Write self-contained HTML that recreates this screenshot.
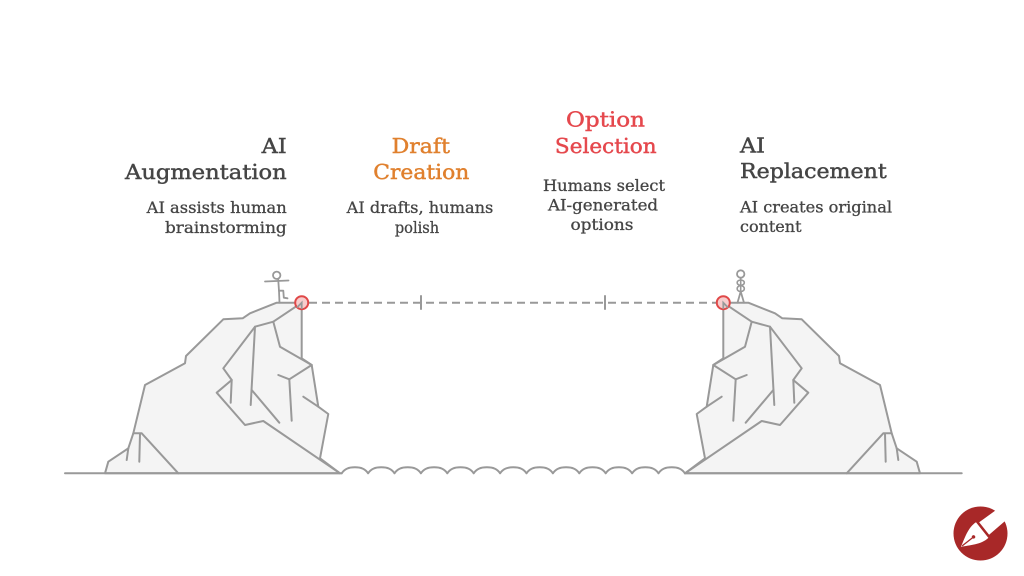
<!DOCTYPE html>
<html><head><meta charset="utf-8"><style>
html,body{margin:0;padding:0;background:#fff;}
svg{display:block;}
text{font-family:"DejaVu Serif","Liberation Serif",serif;}
.t{font-size:20.5px;stroke-width:0.45;}
.d{font-size:16px;stroke-width:0.3;}
</style></head><body>
<svg width="1024" height="576" viewBox="0 0 1024 576" xmlns="http://www.w3.org/2000/svg">
<rect width="1024" height="576" fill="#fff"/>
<defs>
<g id="cliff">
<path d="M105,473.3 L108.3,461.7 L128.3,448.3 L133.3,433.3 L145,385 L185,363.3 L186,356 L223.3,319.3 L242.7,318.3 L250,313.3 L276.7,302.7 L301.7,302.7 L301.7,358.3 L311.7,365 L318.3,406.7 L328.3,414 L320,458.3 L340,473.3 Z" fill="#f4f4f4" stroke="#999" stroke-width="2" stroke-linejoin="round"/>
<g fill="none" stroke="#999" stroke-width="2" stroke-linejoin="round" stroke-linecap="round">
<path d="M301.7,302.7 L273.3,321.7 L255,326.7 L223.3,368.3 L231.7,380 L216.7,392.7 L245,425 L263.3,421 L340,473.3"/>
<path d="M273.3,321.7 L280,346.7 L311.7,365"/>
<path d="M255,326.7 L250.7,405"/>
<path d="M251.7,390 L279.3,422.7"/>
<path d="M231.7,380 L230.7,402.7"/>
<path d="M278.3,375 L289.3,379.3 L311.7,365"/>
<path d="M289.3,379.3 L291.7,420.7"/>
<path d="M303.3,396.7 L318.3,406.7"/>
<path d="M133.3,433.3 L141.7,433.3 L178.3,473.3"/>
<path d="M140,434 L139.3,461.7"/>
<path d="M128.3,448.3 L126.7,460"/>
</g>
</g>
</defs>
<use href="#cliff"/>
<use href="#cliff" transform="translate(1025,0) scale(-1,1)"/>
<!-- ground and water -->
<g fill="none" stroke="#999" stroke-width="2" stroke-linecap="round" stroke-linejoin="round">
<path d="M65,473.3 L341.7,473.3"/>
<path d="M685,473.3 L961.7,473.3"/>
<path d="M341.7,473.3 c3,-4.5 7,-6 13.2,-6 c6.2,0 10.2,1.5 13.2,6 c3,-4.5 7,-6 13.2,-6 c6.2,0 10.2,1.5 13.2,6 c3,-4.5 7,-6 13.2,-6 c6.2,0 10.2,1.5 13.2,6 c3,-4.5 7,-6 13.2,-6 c6.2,0 10.2,1.5 13.2,6 c3,-4.5 7,-6 13.2,-6 c6.2,0 10.2,1.5 13.2,6 c3,-4.5 7,-6 13.2,-6 c6.2,0 10.2,1.5 13.2,6 c3,-4.5 7,-6 13.2,-6 c6.2,0 10.2,1.5 13.2,6 c3,-4.5 7,-6 13.2,-6 c6.2,0 10.2,1.5 13.2,6 c3,-4.5 7,-6 13.2,-6 c6.2,0 10.2,1.5 13.2,6 c3,-4.5 7,-6 13.2,-6 c6.2,0 10.2,1.5 13.2,6 c3,-4.5 7,-6 13.2,-6 c6.2,0 10.2,1.5 13.2,6 c3,-4.5 7,-6 13.2,-6 c6.2,0 10.2,1.5 13.2,6 c3,-4.5 7,-6 13.2,-6 c6.2,0 10.2,1.5 13.2,6"/>
<!-- dashed path -->
<path d="M309,302.7 L716,302.7" stroke-dasharray="8 5" stroke-linecap="butt"/>
<path d="M421,296 V309"/>
<path d="M605,296 V309"/>
<!-- left person -->
<circle cx="276.7" cy="275.3" r="3.7" stroke-width="1.8"/>
<path d="M265,281.5 L288.5,280.5" stroke-width="1.8"/>
<path d="M278.2,279 L279,291 L279.5,302.7" stroke-width="1.8"/>
<path d="M279,290.7 L283.3,290.7 L283.8,297.7 L287.5,298.3" stroke-width="1.8"/>
<!-- right person -->
<circle cx="740.7" cy="274" r="3.7" stroke-width="1.8"/>
<path d="M740.7,278.5 L740.7,292" stroke-width="1.6"/>
<path d="M740.7,280 C736,280.5 736,284.5 740.7,285.5 C745.5,286.5 745.5,291 740.7,291.5 M740.7,280 C745.5,280.5 745.5,284.5 740.7,285.5 C736,286.5 736,291 740.7,291.5" stroke-width="1.6"/>
<path d="M740.7,291.5 L737.5,302.7 M740.7,291.5 L744,302.7" stroke-width="1.8"/>
</g>
<!-- red endpoints -->
<circle cx="301.7" cy="302.7" r="6.5" fill="#f7cccc" stroke="#e04848" stroke-width="2"/>
<circle cx="723.3" cy="302.7" r="6.5" fill="#f7cccc" stroke="#e04848" stroke-width="2"/>
<path d="M297,307.5 L301.7,302.7 L301.7,309" fill="none" stroke="#999" stroke-width="1.8"/>
<path d="M728,307.5 L723.3,302.7 L723.3,309" fill="none" stroke="#999" stroke-width="1.8"/>

<!-- Left column -->
<g fill="#454545" stroke="#454545" text-anchor="end">
<text class="t" x="286.7" y="152.8" textLength="25" lengthAdjust="spacingAndGlyphs">AI</text>
<text class="t" x="286.7" y="179" textLength="161.7" lengthAdjust="spacingAndGlyphs">Augmentation</text>
<text class="d" x="286.7" y="213" textLength="140" lengthAdjust="spacingAndGlyphs">AI assists human</text>
<text class="d" x="286.7" y="233" textLength="121.7" lengthAdjust="spacingAndGlyphs">brainstorming</text>
</g>
<!-- Draft column -->
<g text-anchor="middle">
<text class="t" x="420.8" y="152.8" fill="#e0802e" stroke="#e0802e" textLength="58.3" lengthAdjust="spacingAndGlyphs">Draft</text>
<text class="t" x="421.3" y="179" fill="#e0802e" stroke="#e0802e" textLength="96" lengthAdjust="spacingAndGlyphs">Creation</text>
<text class="d" x="420" y="213" fill="#454545" stroke="#454545" textLength="146.7" lengthAdjust="spacingAndGlyphs">AI drafts, humans</text>
<text class="d" x="417" y="233" fill="#454545" stroke="#454545" textLength="44.3" lengthAdjust="spacingAndGlyphs">polish</text>
</g>
<!-- Option column -->
<g text-anchor="middle">
<text class="t" x="605.5" y="126.7" fill="#e5484d" stroke="#e5484d" textLength="79" lengthAdjust="spacingAndGlyphs">Option</text>
<text class="t" x="605.8" y="153.2" fill="#e5484d" stroke="#e5484d" textLength="101.7" lengthAdjust="spacingAndGlyphs">Selection</text>
<text class="d" x="604" y="191" fill="#454545" stroke="#454545" textLength="122" lengthAdjust="spacingAndGlyphs">Humans select</text>
<text class="d" x="603" y="210.5" fill="#454545" stroke="#454545" textLength="110" lengthAdjust="spacingAndGlyphs">AI-generated</text>
<text class="d" x="602" y="230" fill="#454545" stroke="#454545" textLength="63" lengthAdjust="spacingAndGlyphs">options</text>
</g>
<!-- Right column -->
<g fill="#454545" stroke="#454545" text-anchor="start">
<text class="t" x="740" y="152.5" textLength="25" lengthAdjust="spacingAndGlyphs">AI</text>
<text class="t" x="740" y="178" textLength="146.7" lengthAdjust="spacingAndGlyphs">Replacement</text>
<text class="d" x="740" y="212.5" textLength="152" lengthAdjust="spacingAndGlyphs">AI creates original</text>
<text class="d" x="740" y="232" textLength="61.5" lengthAdjust="spacingAndGlyphs">content</text>
</g>

<!-- logo -->
<circle cx="980.5" cy="533.5" r="27" fill="#a82828"/>
<g transform="translate(981,531) rotate(51.7)">
<path d="M0,25.5 C-4,18 -11,8 -10,-1.5 L10,-1.5 C11,8 4,18 0,25.5 Z" fill="#fff"/>
<path d="M-8,-4 L8,-4 L7,-27 L-7,-27 Z" fill="#fff"/>
<path d="M0,24 L0,10" stroke="#a82828" stroke-width="1.3"/>
<circle cx="0" cy="9.5" r="1.7" fill="#a82828"/>
</g>
</svg>
</body></html>
